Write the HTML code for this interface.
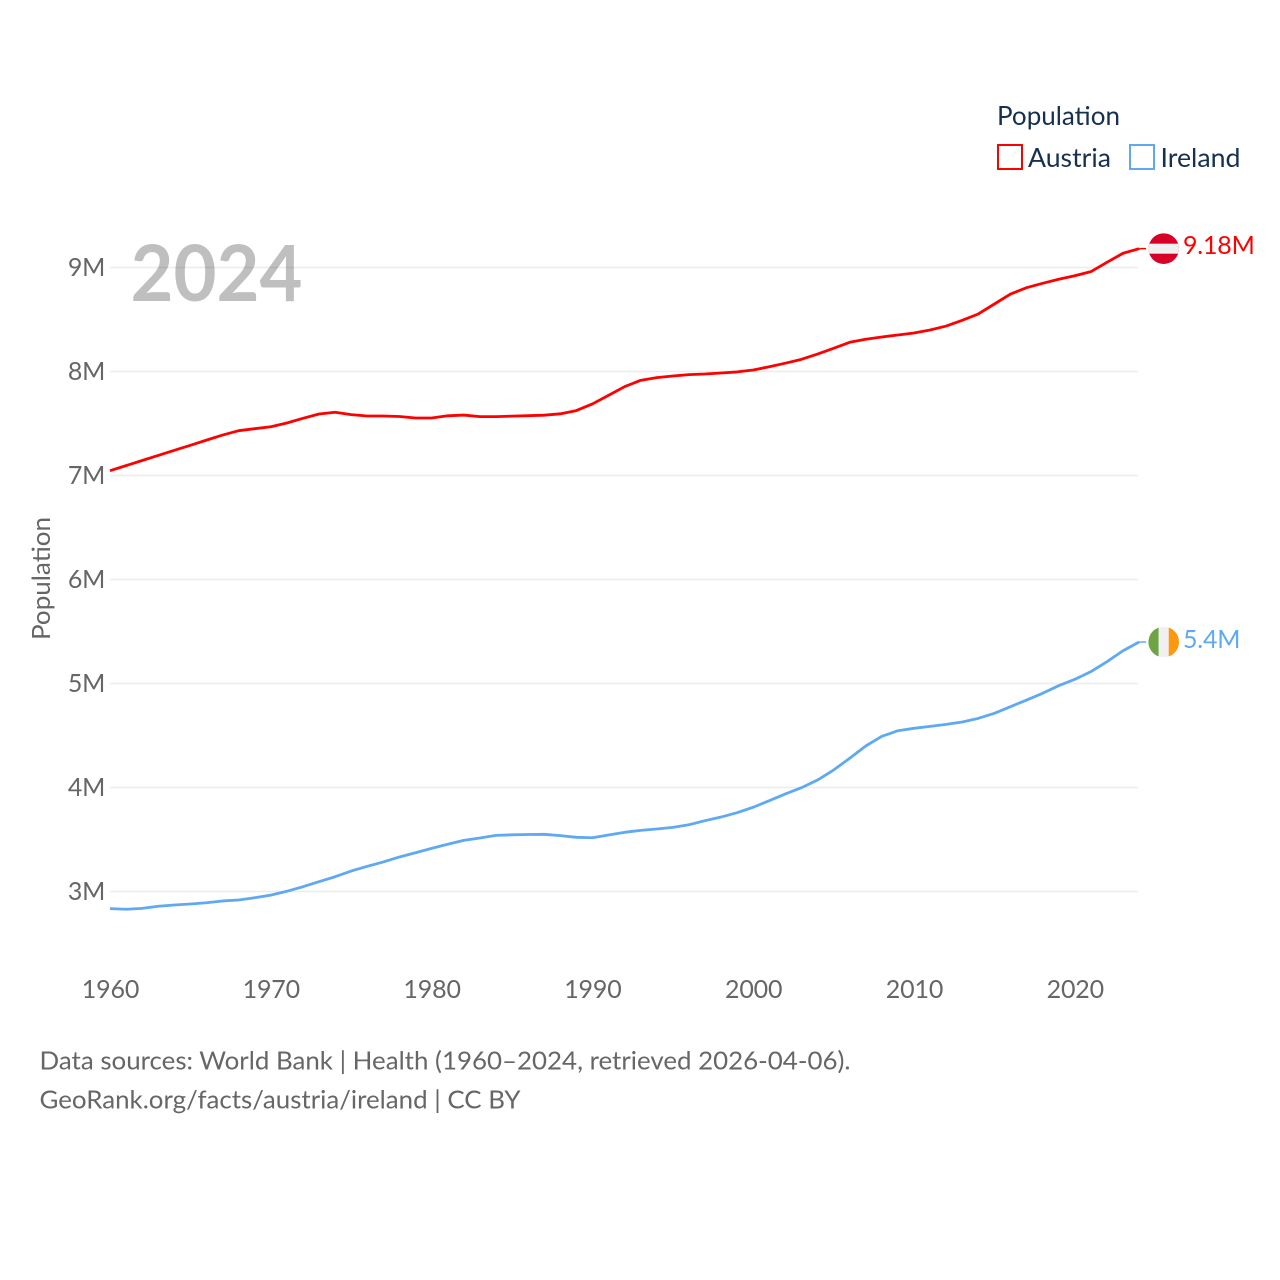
<!DOCTYPE html>
<html lang="en">
<head>
<meta charset="utf-8">
<title>Population: Austria and Ireland</title>
<style>
html,body{margin:0;padding:0;background:#fff;}
svg{display:block;}
text{font-family:"Lato","Carlito","Liberation Sans",sans-serif;}
</style>
</head>
<body>
<svg id="chart" xmlns="http://www.w3.org/2000/svg" width="1280" height="1280" viewBox="0 0 1280 1280">
  <rect x="0" y="0" width="1280" height="1280" fill="#ffffff"/>
  <defs>
    <clipPath id="clip-austria"><circle id="clip-austria-circle" r="15.3"/></clipPath>
    <clipPath id="clip-ireland"><circle id="clip-ireland-circle" r="15.3"/></clipPath>
  </defs>
  <g id="grid"></g>
  <g id="ytick-labels"></g>
  <g id="xtick-labels"></g>
  <text transform="translate(50,640) rotate(-90)" font-size="25.5" fill="#666666" textLength="123" lengthAdjust="spacingAndGlyphs">Population</text>
  <text x="130.5" y="301" font-size="78" font-weight="700" fill="#000000" fill-opacity="0.25" textLength="172" lengthAdjust="spacingAndGlyphs">2024</text>
  <g id="series"></g>
  <g id="end-markers"></g>
  <g>
    <text x="997" y="125" font-size="26.5" fill="#17304f" textLength="123" lengthAdjust="spacingAndGlyphs">Population</text>
    <rect x="998" y="145" width="24" height="24" fill="#ffffff" stroke="#ff0000" stroke-width="2"/>
    <text x="1028" y="167" font-size="26.5" fill="#17304f" textLength="83" lengthAdjust="spacingAndGlyphs">Austria</text>
    <rect x="1130" y="145" width="24" height="24" fill="#ffffff" stroke="#5ea9f2" stroke-width="2"/>
    <text x="1160.5" y="167" font-size="26.5" fill="#17304f" textLength="80" lengthAdjust="spacingAndGlyphs">Ireland</text>
  </g>
  <g>
    <text x="39.5" y="1069.5" font-size="25.5" fill="#666666" textLength="811" lengthAdjust="spacingAndGlyphs">Data sources: World Bank | Health (1960–2024, retrieved 2026-04-06).</text>
    <text x="39.5" y="1108.5" font-size="25.5" fill="#666666" textLength="481" lengthAdjust="spacingAndGlyphs">GeoRank.org/facts/austria/ireland | CC BY</text>
  </g>
</svg>
<script>
const startYear = 1960;
const xTickYears = [1960, 1970, 1980, 1990, 2000, 2010, 2020];
const yTickValues = [3, 4, 5, 6, 7, 8, 9];
const austriaValues = [7.046, 7.095, 7.144, 7.193, 7.242, 7.29, 7.34, 7.389, 7.431, 7.45, 7.469, 7.505, 7.55, 7.591, 7.608, 7.585, 7.572, 7.572, 7.567, 7.553, 7.553, 7.574, 7.581, 7.566, 7.566, 7.571, 7.575, 7.58, 7.593, 7.624, 7.688, 7.77, 7.854, 7.915, 7.941, 7.957, 7.97, 7.976, 7.986, 7.996, 8.014, 8.046, 8.08, 8.117, 8.168, 8.223, 8.281, 8.31, 8.332, 8.351, 8.37, 8.399, 8.437, 8.492, 8.553, 8.649, 8.745, 8.806, 8.848, 8.887, 8.921, 8.96, 9.05, 9.137, 9.181];
const irelandValues = [2.835, 2.829, 2.838, 2.858, 2.87, 2.88, 2.892, 2.909, 2.918, 2.94, 2.965, 3.002, 3.046, 3.094, 3.142, 3.197, 3.242, 3.284, 3.332, 3.373, 3.415, 3.454, 3.492, 3.514, 3.54, 3.545, 3.548, 3.55, 3.537, 3.521, 3.517, 3.543, 3.569, 3.588, 3.601, 3.617, 3.642, 3.681, 3.716, 3.758, 3.81, 3.873, 3.938, 3.998, 4.072, 4.168, 4.281, 4.399, 4.492, 4.546, 4.569, 4.588, 4.607, 4.63, 4.665, 4.713, 4.777, 4.841, 4.906, 4.979, 5.04, 5.114, 5.21, 5.315, 5.399];

const NS = 'http://www.w3.org/2000/svg';
function xScale(year) { return 110 + (year - 1960) * 16.08; }
function yScale(value) { return 891.5 - (value - 3) * 104; }
function make(tag, attrs, parent) {
  const el = document.createElementNS(NS, tag);
  for (const k in attrs) el.setAttribute(k, attrs[k]);
  parent.appendChild(el);
  return el;
}

const grid = document.getElementById('grid');
const yLabels = document.getElementById('ytick-labels');
yTickValues.forEach(function (v) {
  const line = make('line', { x1: 110, x2: 1138, y1: yScale(v), y2: yScale(v), stroke: '#ececec', 'stroke-width': 1.6 }, grid);
  
  
  const t = make('text', { x: 105, y: yScale(v) + 8.5, 'text-anchor': 'end', 'font-size': 25, 'letter-spacing': '-0.3', fill: '#666666' }, yLabels);
  t.textContent = v + 'M';
  
  
});

const xLabels = document.getElementById('xtick-labels');
xTickYears.forEach(function (y) {
  const t = make('text', { x: xScale(y) + 0.5, y: 998, 'text-anchor': 'middle', 'font-size': 25, 'letter-spacing': '-0.15', fill: '#666666' }, xLabels);
  t.textContent = String(y);
  
  
});

function pointsFor(values) {
  return values.map(function (v, i) { return xScale(startYear + i).toFixed(2) + ',' + yScale(v).toFixed(2); }).join(' ');
}
function formatValue(v) { return parseFloat(v.toFixed(2)) + 'M'; }

const seriesGroup = document.getElementById('series');
const markers = document.getElementById('end-markers');

function endOf(values) {
  const i = values.length - 1;
  return { x: xScale(startYear + i), y: yScale(values[i]), v: values[i] };
}

const austriaLine = make('polyline', { points: pointsFor(austriaValues), fill: 'none', stroke: '#ff0000', 'stroke-width': 2.8, 'stroke-linejoin': 'round' }, seriesGroup);


const irelandLine = make('polyline', { points: pointsFor(irelandValues), fill: 'none', stroke: '#5ea9f2', 'stroke-width': 2.8, 'stroke-linejoin': 'round' }, seriesGroup);



const aEnd = endOf(austriaValues);
const iEnd = endOf(irelandValues);

const aConn = make('line', { x1: aEnd.x, x2: aEnd.x + 7, y1: aEnd.y, y2: aEnd.y, stroke: '#ff0000', 'stroke-width': 1.5 }, markers);


const iConn = make('line', { x1: iEnd.x, x2: iEnd.x + 7, y1: iEnd.y, y2: iEnd.y, stroke: '#5ea9f2', 'stroke-width': 1.5 }, markers);



// Austria flag
const fx = aEnd.x + 24.6;
document.getElementById('clip-austria-circle').setAttribute('cx', fx);
document.getElementById('clip-austria-circle').setAttribute('cy', aEnd.y);
const aFlag = make('g', { 'clip-path': 'url(#clip-austria)' }, markers);


make('rect', { x: fx - 16, y: aEnd.y - 16, width: 32, height: 32, fill: '#d80027' }, aFlag);
make('rect', { x: fx - 16, y: aEnd.y - 5, width: 32, height: 10, fill: '#f0f0f0' }, aFlag);

// Ireland flag
document.getElementById('clip-ireland-circle').setAttribute('cx', fx);
document.getElementById('clip-ireland-circle').setAttribute('cy', iEnd.y);
const iFlag = make('g', { 'clip-path': 'url(#clip-ireland)' }, markers);


make('rect', { x: fx - 16, y: iEnd.y - 16, width: 11, height: 32, fill: '#6da544' }, iFlag);
make('rect', { x: fx - 5, y: iEnd.y - 16, width: 10, height: 32, fill: '#f0f0f0' }, iFlag);
make('rect', { x: fx + 5, y: iEnd.y - 16, width: 11, height: 32, fill: '#ff9811' }, iFlag);

const aLabel = make('text', { x: 1183, y: aEnd.y + 5.5, 'font-size': 25, 'letter-spacing': '-0.2', fill: '#ff0000' }, markers);
aLabel.textContent = formatValue(aEnd.v);


const iLabel = make('text', { x: 1183, y: iEnd.y + 6, 'font-size': 25, 'letter-spacing': '-0.2', fill: '#5ea9f2' }, markers);
iLabel.textContent = formatValue(iEnd.v);


</script>
</body>
</html>
